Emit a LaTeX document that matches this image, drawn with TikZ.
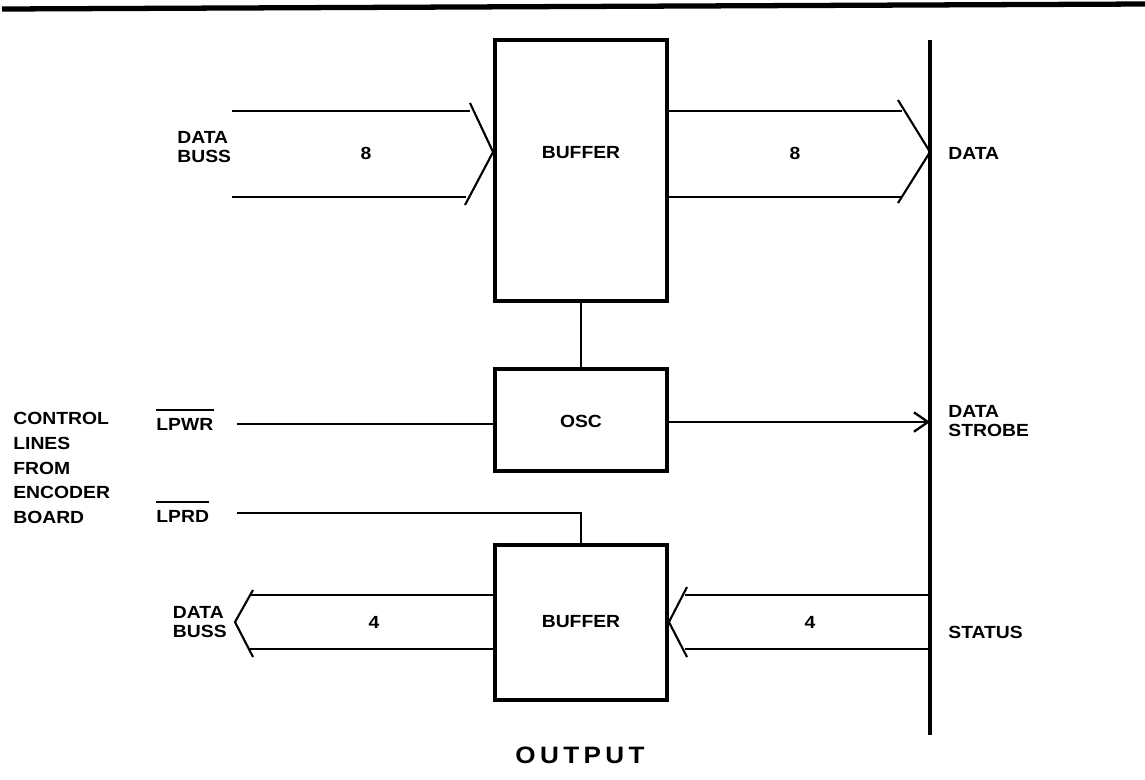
\documentclass[tikz,border=0pt]{standalone}
\usepackage{fontspec}
\setmainfont{Liberation Sans}[FakeStretch=1.1]
\usetikzlibrary{arrows.meta,fit}
\begin{document}
\begin{tikzpicture}[x=0.02cm,y=-0.02cm,
  lbl/.style={font=\bfseries\fontsize{10}{11}\selectfont, inner sep=0},
  box/.style={draw, line width=2.2pt, inner sep=0},
  wire/.style={line width=1.3pt},
  bus/.style={line width=2.2pt},
  chev/.style={line width=1.2pt, line join=miter},
  ovl/.style={line width=0.9pt}]
\useasboundingbox (0,0) rectangle (1145,779);

% top rule
\draw[line width=3pt] (2,9) -- (1145,4);

% boxes
\node[box, fit={(495,40) (667,301)}] (buf1) {};
\node[box, fit={(495,369) (667,471)}] (osc) {};
\node[box, fit={(495,545) (667,700)}] (buf2) {};

% vertical bus
\coordinate (busT) at (930,40);
\coordinate (busB) at (930,735);
\draw[bus] (busT) -- (busB);

% labels
\node[lbl] (t1) at (581,153) {BUFFER};
\node[lbl] (t2) at (581,421) {OSC};
\node[lbl] (t3) at (581,622) {BUFFER};
\node[lbl, anchor=west, align=left] (dbin) at (177,147) {DATA\\BUSS};
\node[lbl] (n8a) at (366,153) {8};
\node[lbl] (n8b) at (795,153) {8};
\node[lbl, anchor=west] (dout) at (948,153) {DATA};
\node[lbl, anchor=west, align=left, font=\bfseries\fontsize{10}{14}\selectfont] (ctl) at (13,468) {CONTROL\\LINES\\FROM\\ENCODER\\BOARD};
\node[lbl, anchor=west] (lpwr) at (156,424) {LPWR};
\node[lbl, anchor=west] (lprd) at (156,516) {LPRD};
\draw[ovl] ([yshift=4.5pt]lpwr.north west) -- ([yshift=4.5pt]lpwr.north east);
\draw[ovl] ([yshift=4.5pt]lprd.north west) -- ([yshift=4.5pt]lprd.north east);
\node[lbl, anchor=west, align=left] (strb) at (948,421) {DATA\\STROBE};
\node[lbl, anchor=east, align=left] (dbout) at (227,622) {DATA\\BUSS};
\node[lbl] (n4a) at (374,622) {4};
\node[lbl] (n4b) at (810,622) {4};
\node[lbl, anchor=west] (stat) at (948,632) {STATUS};
\node[lbl, font=\bfseries\fontsize{13.5}{14}\selectfont] (outp) at (580,755) {O\kern2.5pt U\kern2.5pt T\kern2.5pt P\kern2.5pt U\kern2.5pt T};

% top-left data bus arrow (into buffer)
\coordinate (a1s) at (232,111); \coordinate (a1b) at (232,197);
\draw[wire] (a1s) -- (470,111);
\draw[wire] (a1b) -- (466,197);
\draw[chev] (470,103) -- (buf1.west |- 0,152) -- (465,205);

% top-right data bus arrow (to bus)
\draw[wire] (buf1.east |- a1s) -- (902,111);
\draw[wire] (buf1.east |- a1b) -- (902,197);
\draw[chev] (898,100) -- (busT |- 0,152) -- (898,203);

% buffer to osc
\draw[wire] (buf1.south) -- (osc.north);

% LPWR
\coordinate (wr) at (237,424);
\draw[wire] (wr) -- (wr -| osc.west);

% OSC to data strobe
\coordinate (strobe) at (930,422);
\draw[wire, -{Straight Barb[length=8pt,width=11pt]}] (osc.east |- strobe) -- (strobe);

% LPRD
\coordinate (rd) at (237,513);
\draw[wire] (rd) -| (buf2.north);

% bottom-left data bus arrow (out of buffer)
\coordinate (b1s) at (250,595); \coordinate (b1b) at (250,649);
\draw[wire] (buf2.west |- b1s) -- (b1s);
\draw[wire] (buf2.west |- b1b) -- (b1b);
\draw[chev] (253,590) -- (235,622) -- (253,657);

% bottom-right status arrow (into buffer)
\draw[wire] (busT |- b1s) -- (685,595);
\draw[wire] (busT |- b1b) -- (685,649);
\draw[chev] (687,587) -- (buf2.east |- 0,622) -- (687,657);
\end{tikzpicture}
\end{document}
